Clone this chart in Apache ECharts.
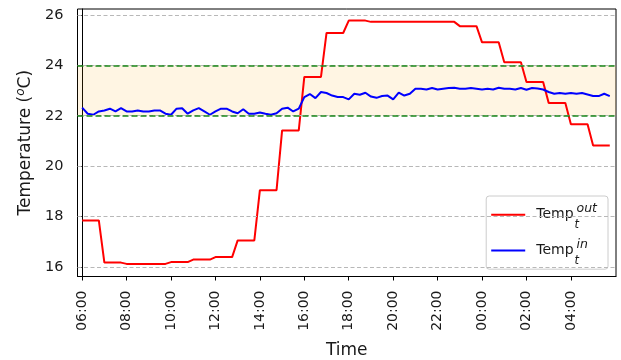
<!DOCTYPE html>
<html>
<head>
<meta charset="utf-8">
<script src="https://cdn.jsdelivr.net/npm/echarts@6/dist/echarts.min.js"></script>
<style>
  html, body { margin: 0; padding: 0; background: #fff; }
  #chart { width: 621px; height: 360px; }
</style>
</head>
<body>
<div id="chart"></div>
<script>
// Samples every 15 minutes, starting at 06:00 (96 samples = 24 h).
const sampleStepHours = 0.25;

// Outdoor temperature (°C), one value per 15-minute sample.
const tempOut = [
  17.85, 17.85, 17.85, 17.85,  // 06
  16.18, 16.18, 16.18, 16.18,  // 07
  16.13, 16.13, 16.13, 16.13,  // 08
  16.13, 16.13, 16.13, 16.13,  // 09
  16.20, 16.20, 16.20, 16.20,  // 10
  16.30, 16.30, 16.30, 16.30,  // 11
  16.40, 16.40, 16.40, 16.40,  // 12
  17.06, 17.06, 17.06, 17.06,  // 13
  19.05, 19.05, 19.05, 19.05,  // 14
  21.42, 21.42, 21.42, 21.42,  // 15
  23.54, 23.54, 23.54, 23.54,  // 16
  25.28, 25.28, 25.28, 25.28,  // 17
  25.77, 25.77, 25.77, 25.77,  // 18
  25.72, 25.72, 25.72, 25.72,  // 19
  25.72, 25.72, 25.72, 25.72,  // 20
  25.72, 25.72, 25.72, 25.72,  // 21
  25.72, 25.72, 25.72, 25.72,  // 22
  25.55, 25.55, 25.55, 25.55,  // 23
  24.91, 24.91, 24.91, 24.91,  // 00
  24.12, 24.12, 24.12, 24.12,  // 01
  23.34, 23.34, 23.34, 23.34,  // 02
  22.51, 22.51, 22.51, 22.51,  // 03
  21.66, 21.66, 21.66, 21.66,  // 04
  20.82, 20.82, 20.82, 20.82   // 05
];

// Indoor temperature (°C), one value per 15-minute sample.
const tempIn = [
  22.32, 22.08, 22.04, 22.17, 22.21, 22.28, 22.17, 22.30,
  22.17, 22.17, 22.21, 22.17, 22.17, 22.21, 22.21, 22.08,
  22.04, 22.28, 22.30, 22.08, 22.21, 22.30, 22.17, 22.04,
  22.17, 22.28, 22.28, 22.17, 22.10, 22.26, 22.08, 22.08,
  22.13, 22.08, 22.04, 22.10, 22.28, 22.32, 22.17, 22.28,
  22.74, 22.86, 22.70, 22.94, 22.90, 22.80, 22.74, 22.74,
  22.65, 22.87, 22.83, 22.91, 22.76, 22.71, 22.78, 22.80,
  22.65, 22.92, 22.80, 22.87, 23.07, 23.07, 23.04, 23.10,
  23.04, 23.07, 23.10, 23.11, 23.07, 23.07, 23.10, 23.07,
  23.04, 23.07, 23.04, 23.11, 23.07, 23.07, 23.04, 23.10,
  23.03, 23.10, 23.08, 23.04, 22.94, 22.87, 22.90, 22.87,
  22.90, 22.87, 22.90, 22.84, 22.78, 22.78, 22.87, 22.78
];

// Comfort band limits (°C)
const comfortLow = 22;
const comfortHigh = 24;

// Axis ticks
const xTickHours = [0, 2, 4, 6, 8, 10, 12, 14, 16, 18, 20, 22];
const xTickLabels = ['06:00', '08:00', '10:00', '12:00', '14:00', '16:00',
                     '18:00', '20:00', '22:00', '00:00', '02:00', '04:00'];
const yTicks = [16, 18, 20, 22, 24, 26];

const FONT = 'DejaVu Sans';
const TEXT = '#1a1a1a';

const toPairs = arr => arr.map((v, i) => [i * sampleStepHours, v]);

const gridLines = yTicks.map(v => ({
  yAxis: v,
  lineStyle: { color: '#b8b8b8', width: 1, type: [4, 2.5] }
}));
const bandLines = [comfortLow, comfortHigh].map(v => ({
  yAxis: v,
  lineStyle: { color: '#1a861a', width: 1.6, type: [6, 3] }
}));

const chart = echarts.init(document.getElementById('chart'), null, { renderer: 'canvas' });

chart.setOption({
  animation: false,
  backgroundColor: '#fff',
  textStyle: { fontFamily: FONT },
  grid: {
    left: 77.5, right: 5, top: 9, bottom: 83.5,
    outerBoundsMode: 'none',
    containLabel: false,
    show: true, borderColor: '#000', borderWidth: 1,
    backgroundColor: 'transparent'
  },
  legend: {
    orient: 'vertical',
    right: 13, top: 196,
    padding: [6.5, 11, 2, 5],
    itemGap: 6.7,
    itemWidth: 34, itemHeight: 2,
    icon: 'rect',
    backgroundColor: 'rgba(255,255,255,0.9)',
    borderColor: '#cccccc', borderWidth: 1, borderRadius: 3,
    data: ['Temp out', 'Temp in'],
    formatter: name => name === 'Temp out'
      ? '{m|Temp}{s|t}{p|out}'
      : '{m|Temp}{s|t}{p|in}',
    textStyle: {
      rich: {
        m: { fontFamily: FONT, fontSize: 14, color: TEXT, lineHeight: 33.5, padding: [0, 0, 0, 6] },
        s: { fontFamily: FONT, fontSize: 11.5, fontStyle: 'italic', color: TEXT, width: 0,
             verticalAlign: 'bottom', padding: [0, 0, 0, 1] },
        p: { fontFamily: FONT, fontSize: 12.5, fontStyle: 'italic', color: TEXT,
             verticalAlign: 'top', padding: [4.5, 0, 0, 2] }
      }
    }
  },
  xAxis: {
    type: 'value',
    min: -0.21, max: 24.03,
    name: 'Time',
    nameLocation: 'middle',
    nameGap: 66,
    nameTextStyle: { fontFamily: FONT, fontSize: 17, color: TEXT },
    axisLine: { show: true, lineStyle: { color: '#000', width: 1 } },
    axisTick: { show: true, customValues: xTickHours, length: 4, lineStyle: { color: '#000' } },
    axisLabel: {
      customValues: xTickHours,
      rotate: 90,
      margin: 14,
      fontFamily: FONT, fontSize: 14, color: TEXT,
      formatter: v => xTickLabels[xTickHours.indexOf(v)] || ''
    },
    splitLine: { show: false }
  },
  yAxis: {
    type: 'value',
    min: 15.63, max: 26.23,
    name: '{t|Temperature (}{o|o}{t|C)}',
    nameLocation: 'middle',
    nameRotate: 90,
    nameGap: 41,
    nameTextStyle: {
      rich: {
        t: { fontFamily: FONT, fontSize: 17, color: TEXT, lineHeight: 22 },
        o: { fontFamily: FONT, fontSize: 12, fontStyle: 'italic', color: TEXT, lineHeight: 12, verticalAlign: 'top' }
      }
    },
    axisLine: { show: true, lineStyle: { color: '#000', width: 1 } },
    axisTick: { show: true, customValues: yTicks, length: 4, lineStyle: { color: '#000' } },
    axisLabel: {
      customValues: yTicks,
      margin: 14,
      fontFamily: FONT, fontSize: 14.5, color: TEXT
    },
    splitLine: { show: false }
  },
  series: [
    {
      name: 'Temp out',
      type: 'line',
      data: toPairs(tempOut),
      showSymbol: false,
      color: '#ff0000',
      lineStyle: { color: '#ff0000', width: 2 },
      z: 3,
      markArea: {
        silent: true,
        itemStyle: { color: 'rgba(255,165,0,0.11)' },
        data: [[{ yAxis: comfortLow }, { yAxis: comfortHigh }]]
      },
      markLine: {
        silent: true,
        symbol: 'none',
        label: { show: false },
        data: gridLines.concat(bandLines)
      }
    },
    {
      name: 'Temp in',
      type: 'line',
      data: toPairs(tempIn),
      showSymbol: false,
      color: '#0000ff',
      lineStyle: { color: '#0000ff', width: 2 },
      z: 4
    }
  ]
});
</script>
</body>
</html>
